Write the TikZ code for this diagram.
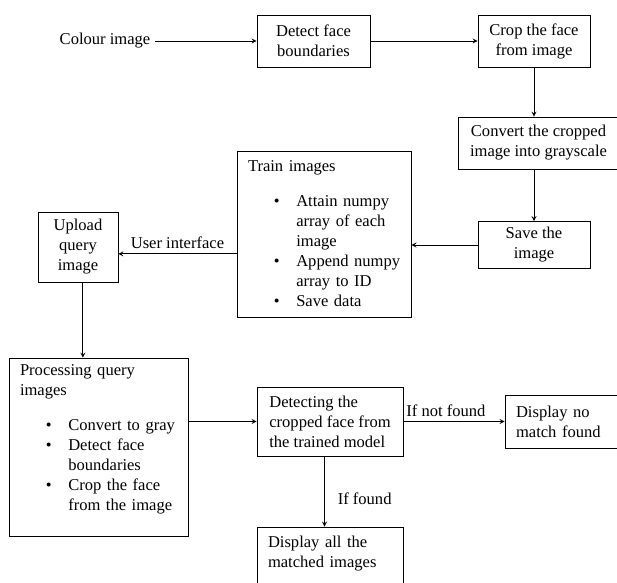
\documentclass[tikz,border=0pt]{standalone}
\usepackage{fontspec}
\setmainfont{Liberation Serif}
\usepackage{enumitem}
\usetikzlibrary{arrows}
\setlist[itemize]{leftmargin=35pt, labelsep=12pt, topsep=11pt, itemsep=0pt, parsep=0pt, partopsep=0pt}
\tikzstyle{process} = [
    rectangle,
    align=center,
    inner sep=0pt,
    line width=0.6pt,
    draw=black
]
\tikzstyle{listbox} = [
    rectangle,
    align=left,
    inner xsep=8pt,
    inner ysep=0pt,
    line width=0.6pt,
    draw=black
]
\tikzstyle{arrow} = [line width=0.6pt,->,>=stealth]

\begin{document}
\begin{tikzpicture}[x=0.725pt, y=-0.725pt, font=\fontsize{12}{14.5}\selectfont]
\clip (0,0) rectangle (617,583);

\node (colour) at (105,41) {Colour image};

\node (detect) [process, minimum width=81.9pt, minimum height=37.7pt] at (313.5,41)
{Detect face\\boundaries};

\node (crop) [process, minimum width=81.2pt, minimum height=37.7pt] at (534,41)
{Crop the face\\from image};

\node (convert) [process, minimum width=116.7pt, minimum height=37.7pt] at (538.5,143)
{Convert the cropped\\image into grayscale};

\node (save) [process, minimum width=81.2pt, minimum height=34.1pt] at (534,245)
{Save the\\image};

\node (train) [listbox, inner xsep=5pt, text width=116.2pt, minimum height=120.4pt] at (324,234)
{\hspace*{3pt}Train images
\begin{itemize}[leftmargin=38pt]
\item Attain numpy\newline array of each\newline image
\item Append numpy\newline array to ID
\item Save data
\end{itemize}};

\node (upload) [process, minimum width=58pt, minimum height=50.8pt] at (78,247)
{Upload\\query\\image};

\node (processing) [listbox, text width=113.8pt, minimum height=129pt] at (98.5,447)
{Processing query\newline images
\begin{itemize}
\item Convert to gray
\item Detect face\newline boundaries
\item Crop the face\newline from the image
\end{itemize}
\hrule height 0pt};

\node (detecting) [listbox, minimum width=105.9pt, minimum height=50pt] at (330,421.5)
{Detecting the\\cropped face from\\the trained model};

\node (nomatch) [listbox, text width=71pt, minimum height=38.4pt] at (565,421.5)
{Display no\\match found};

\node (showall) [listbox, text width=89.9pt, minimum height=50.8pt] at (330,562)
{Display all the\\matched images\\\mbox{}};

\draw [arrow] (colour) -- (detect);
\draw [arrow] (detect) -- (crop);
\draw [arrow] (crop) -- (crop |- convert.north);
\draw [arrow] (convert.south -| save) -- (save);
\draw [arrow] (save.west) -- (save.west -| train.east);
\draw [arrow] ([yshift=-5pt]upload.east -| train.west) -- node[above]{User interface} ([yshift=-5pt]upload.east);
\draw [arrow] ([xshift=3.5pt]upload.south) -- ([xshift=3.5pt]upload.south |- processing.north);
\draw [arrow] (detecting -| processing.east) -- (detecting);
\draw [arrow] (detecting) -- node[above, pos=0.42]{If not found} (nomatch);
\draw [arrow] ([xshift=-4pt]detecting.south) -- node[right=6pt, pos=0.6]{If found} ([xshift=-4pt]detecting.south |- showall.north);

\end{tikzpicture}
\end{document}
